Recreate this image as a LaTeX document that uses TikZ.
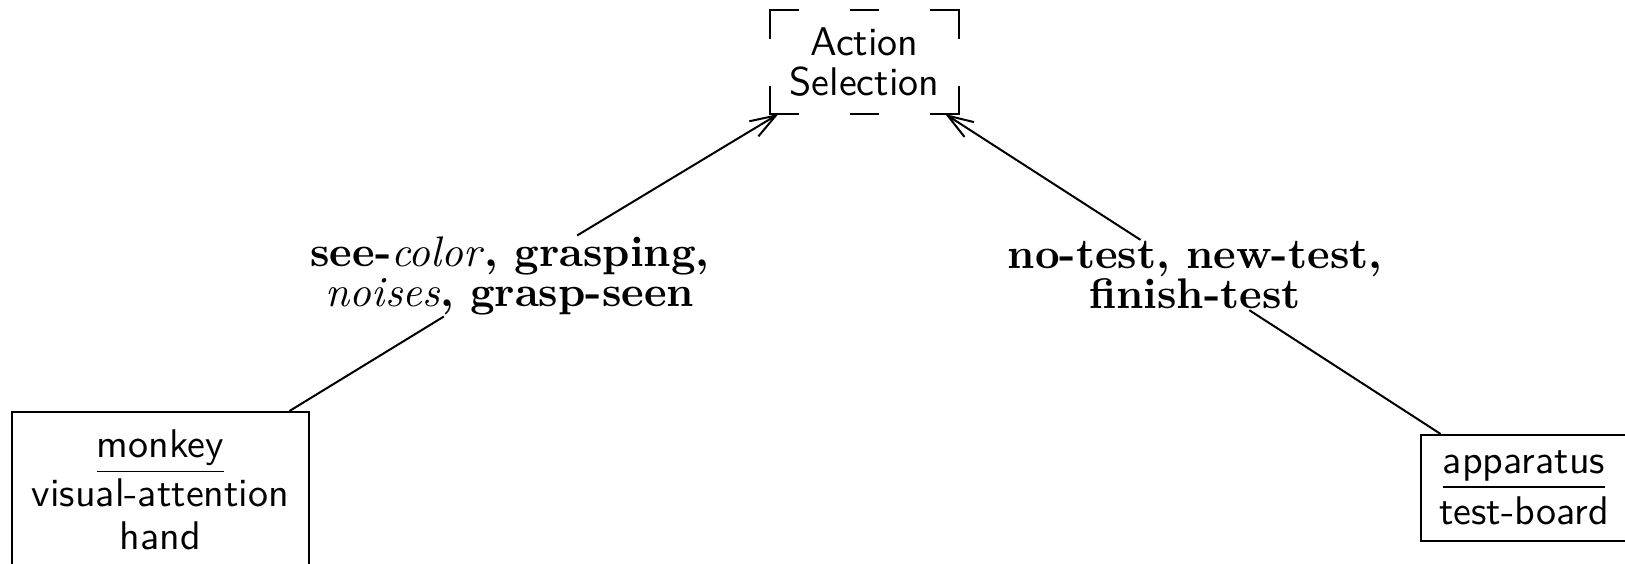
\documentclass[tikz,border=0pt]{standalone}
\usetikzlibrary{calc,arrows.meta}
\begin{document}
\begin{tikzpicture}[x=0.25pt,y=-0.25pt,line width=0.5pt,
  boxfont/.style={font=\sffamily\fontsize{10pt}{10pt}\selectfont},
  objbox/.style={draw,rectangle,align=center,inner sep=0pt,boxfont},
  actbox/.style={rectangle,align=center,inner sep=0pt,boxfont,
                 minimum width=46.75pt,minimum height=25.5pt},
  evlabel/.style={align=center,inner sep=0pt,
                  font=\bfseries\fontsize{10.7pt}{10.2pt}\selectfont},
  flow/.style={-{Straight Barb[length=6.4pt,width=4.4pt]}},
  arm/.style={line cap=butt}
]
\useasboundingbox (0,0) rectangle (1625,564);
\clip (0,0) rectangle (1625,564);

% action selection box (dashed outline drawn below)
\node[actbox] (act) at (864.5,62) {Action\\Selection};

% object boxes
\node[objbox,minimum width=74.25pt,minimum height=39pt] (monkey) at (160.5,490)
  {\underline{monkey}\\[0.2pt]visual-attention\\[0.7pt]hand};
\node[objbox,minimum width=51.5pt,minimum height=26.5pt] (app) at (1524,488)
  {\underline{apparatus}\\[0.8pt]test-board};

% event labels
\node[evlabel] (lab1) at (510,276)
  {see-\textmd{\textit{color}}, grasping,\\\textmd{\textit{noises}}, grasp-seen};
\node[evlabel] (lab2) at (1195,275)
  {no-test, new-test,\\finish-test};

% dashed outline of the action box: corner arms and a middle dash per long side
\draw[arm] ($(act.north west)+(0,29)$) -- (act.north west) -- ++(29,0);
\draw[arm] ($(act.north east)+(0,29)$) -- (act.north east) -- ++(-29,0);
\draw[arm] ($(act.south west)+(0,-28)$) -- (act.south west) -- ++(29,0);
\draw[arm] ($(act.south east)+(0,-28)$) -- (act.south east) -- ++(-29,0);
\draw[arm] ($(act.north)+(-14.5,0)$) -- ++(29,0);
\draw[arm] ($(act.south)+(-14.5,0)$) -- ++(29,0);

% connectors
\draw (monkey) -- (lab1);
\draw[flow] (lab1) -- (act);
\draw (app) -- (lab2);
\draw[flow] (lab2) -- (act);
\end{tikzpicture}
\end{document}
